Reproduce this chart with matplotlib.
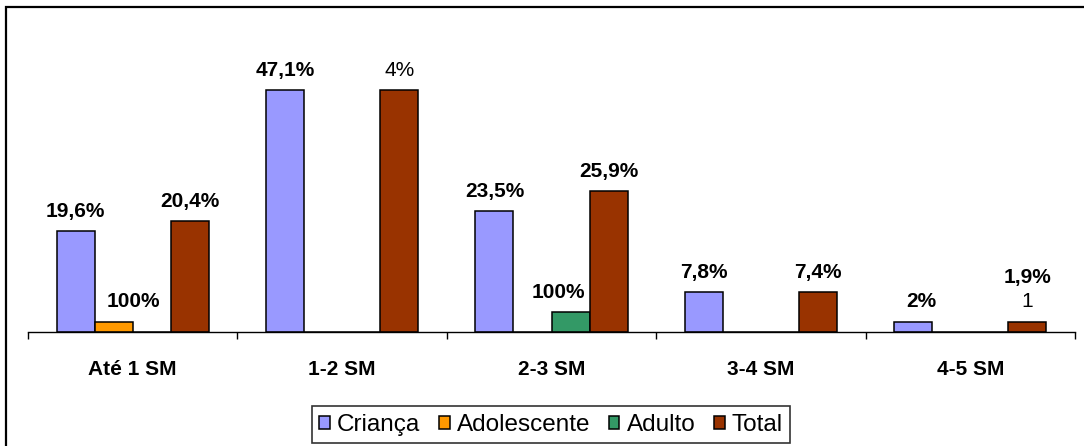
import matplotlib
matplotlib.use('Agg')
import matplotlib.pyplot as plt
from matplotlib.patches import Rectangle
import numpy as np

plt.rcParams['font.family'] = ['Liberation Sans', 'DejaVu Sans']

faixas = ['Até 1 SM', '1-2 SM', '2-3 SM', '3-4 SM', '4-5 SM']
series = ['Criança', 'Adolescente', 'Adulto', 'Total']

# numero de casos por faixa salarial
crianca = [10, 24, 12, 4, 1]
adolescente = [1, 0, 0, 0, 0]
adulto = [0, 0, 2, 0, 0]
total = [11, 24, 14, 4, 1]

# rotulos percentuais de cada barra (None = sem rotulo)
crianca_pct = ['19,6%', '47,1%', '23,5%', '7,8%', '2%']
adolescente_pct = ['100%', None, None, None, None]
adulto_pct = [None, None, '100%', None, None]
total_pct = ['20,4%', '4%', '25,9%', '7,4%', '1,9%']

cores = ['#9999FF', '#FF9900', '#339966', '#993300']

valores = [crianca, adolescente, adulto, total]
rotulos = [crianca_pct, adolescente_pct, adulto_pct, total_pct]

# ajustes manuais de posicao dos rotulos (serie, faixa): (dx, dy) em pontos
ajuste = {(1, 0): (14, 11), (3, 4): (0, 28), (2, 2): (-9, 10), (0, 4): (6, 11)}
# rotulos em fonte normal
normal = {(3, 1)}

fig = plt.figure(figsize=(10.84, 4.46), dpi=100)
ax = fig.add_axes([28 / 1084, 114 / 446, 1047 / 1084, 303 / 446])

x = np.arange(len(faixas))
w = 1 / 5.5
for i, (vals, cor) in enumerate(zip(valores, cores)):
    pos = x + (i - 1.5) * w
    ax.bar(pos, vals, width=w, color=cor, edgecolor='black', linewidth=1.1,
           label=series[i])
    for j, (p, v) in enumerate(zip(pos, vals)):
        txt = rotulos[i][j]
        if txt is None:
            continue
        dx, dy = ajuste.get((i, j), (0, 10))
        peso = 'normal' if (i, j) in normal else 'bold'
        ax.annotate(txt, (p, v), xytext=(dx, dy), textcoords='offset points',
                    ha='center', va='baseline', fontsize=15, fontweight=peso)

# numero de casos no total da ultima faixa
ax.annotate('1', (x[4] + 1.5 * w, total[4]), xytext=(0, 11),
            textcoords='offset points', ha='center', va='baseline', fontsize=15)

ax.set_xlim(-0.5, len(faixas) - 0.5)
ax.set_ylim(0, 30)
ax.set_xticks(x)
ax.set_xticklabels(faixas, fontsize=15, fontweight='bold')
ax.set_xticks(np.arange(-0.5, len(faixas)), minor=True)
ax.tick_params(axis='x', which='major', length=0, pad=20)
ax.tick_params(axis='x', which='minor', length=5, width=1, direction='out')
ax.set_yticks([])
for s in ['left', 'right', 'top']:
    ax.spines[s].set_visible(False)
ax.spines['bottom'].set_linewidth(1)

leg = fig.legend(loc='lower center', bbox_to_anchor=(551 / 1084, 3 / 446), ncol=4,
                 fontsize=17.5, frameon=True, fancybox=False, borderpad=0.3,
                 handlelength=0.45, handleheight=0.45, handletextpad=0.3,
                 columnspacing=0.75, borderaxespad=0)
leg.get_frame().set_edgecolor('black')
leg.get_frame().set_linewidth(1.2)

# moldura externa
fig.patches.append(Rectangle((5.5 / 1084, -0.1), 1.2, 1.1 - 6.5 / 446,
                             transform=fig.transFigure, fill=False,
                             edgecolor='black', linewidth=1.6))

fig.savefig('out.png', dpi=100)
